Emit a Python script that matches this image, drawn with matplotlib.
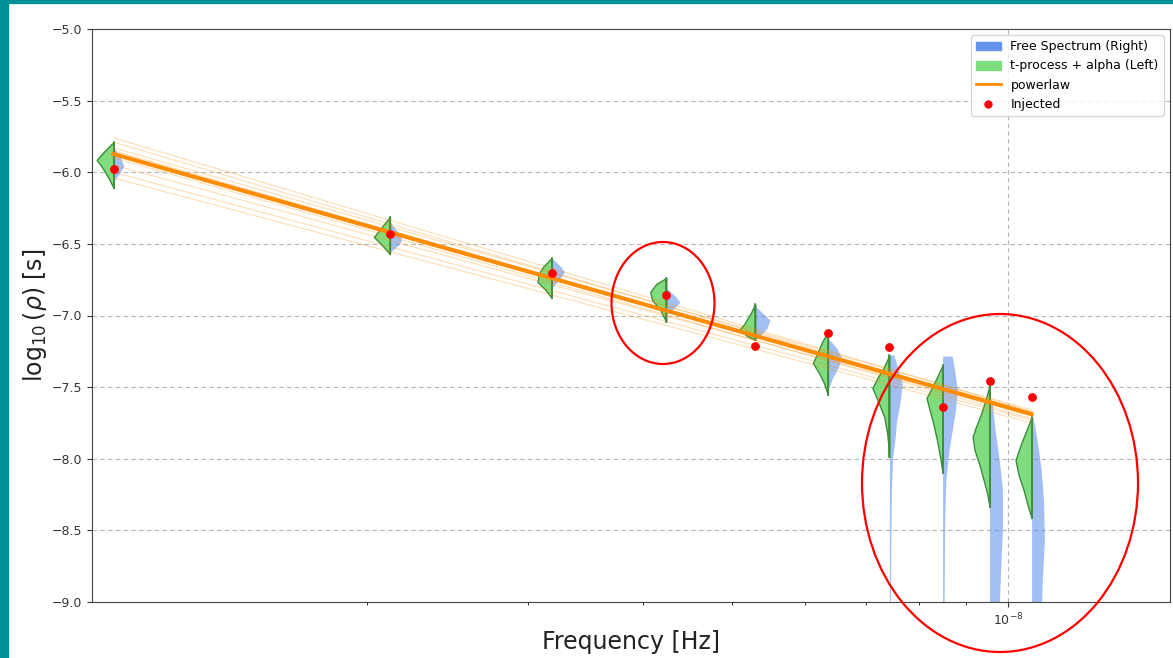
import matplotlib
matplotlib.use("Agg")
import matplotlib.pyplot as plt
import numpy as np
from matplotlib.patches import Patch, Ellipse, Rectangle
from matplotlib.lines import Line2D
from matplotlib.ticker import NullFormatter

# frequency bins (k / Tspan, Tspan ~ 30 yr)
freqs = [1.060e-9, 2.120e-9, 3.180e-9, 4.240e-9, 5.300e-9,
         6.360e-9, 7.420e-9, 8.480e-9, 9.540e-9, 1.060e-8]

# injected log10(rho) values
injected = [-5.98, -6.43, -6.70, -6.855, -7.21, -7.12, -7.22, -7.64, -7.46, -7.57]

# powerlaw: median and a few posterior draws, log10(rho) at first and last bin
pl_median = [-5.873, -7.688]
pl_draws_lo = [-5.76, -5.79, -5.83, -5.85, -5.90, -5.95, -6.00, -6.04]
pl_draws_hi = [-7.67, -7.69, -7.66, -7.70, -7.72, -7.70, -7.73, -7.75]

# violin profiles: (log10 rho levels, half width in decades)
green_y = [
    [-5.789, -5.859, -5.914, -5.970, -6.040, -6.110],
    [-6.312, -6.389, -6.452, -6.508, -6.571],
    [-6.599, -6.655, -6.710, -6.766, -6.822, -6.878],
    [-6.738, -6.780, -6.836, -6.892, -6.962, -7.045],
    [-6.920, -6.990, -7.059, -7.101, -7.143, -7.171],
    [-7.115, -7.185, -7.255, -7.332, -7.401, -7.471, -7.555],
    [-7.276, -7.367, -7.436, -7.506, -7.590, -7.709, -7.834, -7.988],
    [-7.346, -7.436, -7.520, -7.576, -7.660, -7.764, -7.890, -8.009, -8.099],
    [-7.485, -7.590, -7.695, -7.785, -7.848, -7.939, -8.044, -8.148, -8.253, -8.337],
    [-7.709, -7.799, -7.904, -8.009, -8.113, -8.218, -8.323, -8.414],
]
green_w = [
    [0, .011, .0185, .012, .0055, 0],
    [0, .0098, .0175, .0087, 0],
    [0, .0087, .0142, .0153, .0065, 0],
    [0, .011, .0175, .0153, .0065, 0],
    [0, .0055, .012, .0175, .0087, 0],
    [0, .0065, .011, .0164, .0098, .0044, 0],
    [0, .0065, .013, .0185, .013, .0055, .0022, 0],
    [0, .0065, .013, .0175, .0142, .0098, .0055, .0022, 0],
    [0, .0044, .0098, .0153, .0185, .0164, .011, .0065, .0022, 0],
    [0, .0055, .012, .0175, .0142, .0087, .0044, 0],
]
blue_y = [
    [-5.824, -5.901, -5.956, -6.012, -6.061],
    [-6.347, -6.417, -6.473, -6.522, -6.557],
    [-6.599, -6.655, -6.696, -6.752, -6.808],
    [-6.808, -6.864, -6.906, -6.948, -6.990],
    [-6.934, -6.983, -7.031, -7.087, -7.136, -7.171],
    [-7.157, -7.227, -7.297, -7.366, -7.436, -7.520],
    [-7.276, -7.380, -7.471, -7.590, -7.729, -7.869, -7.988, -8.218, -8.567, -9.05],
    [-7.283, -7.380, -7.520, -7.660, -7.799, -7.939, -8.148, -8.428, -9.05],
    [-7.590, -7.799, -8.009, -8.218, -8.497, -8.777, -9.05],
    [-7.709, -7.869, -8.079, -8.288, -8.567, -8.812, -9.05],
]
blue_w = [
    [0, .0075, .011, .006, 0],
    [0, .0085, .013, .007, 0],
    [0, .0095, .014, .008, 0],
    [0, .0095, .015, .009, 0],
    [0, .008, .016, .013, .006, 0],
    [0, .0095, .015, .011, .005, 0],
    [.005, .0095, .014, .012, .008, .006, .0035, .0022, .0016, .0011],
    [.0105, .013, .016, .014, .0105, .007, .0035, .0022, .0016],
    [.0025, .006, .0105, .014, .014, .012, .0105],
    [.0015, .006, .0105, .013, .014, .012, .0105],
]

fig = plt.figure(figsize=(11.73, 6.58), dpi=100)
ax = fig.add_axes([92 / 1173, 1 - 602 / 658, (1170 - 92) / 1173, (602 - 29) / 658])

for f, gy, gw, by, bw in zip(freqs, green_y, green_w, blue_y, blue_w):
    gy = np.array(gy)
    by = np.array(by)
    ax.fill_betweenx(by, f, f * 10 ** np.array(bw), color="cornflowerblue",
                     alpha=0.6, lw=0, zorder=2)
    ax.fill_betweenx(gy, f * 10 ** (-np.array(gw)), f, facecolor="#7fdc7f",
                     edgecolor="#3c8c3c", lw=1.0, zorder=3)
    ax.plot([f, f], [gy.min(), gy.max()], color="#3c8c3c", lw=1.2, zorder=3)

pl_x = [freqs[0], freqs[-1]]
for lo, hi in zip(pl_draws_lo, pl_draws_hi):
    ax.plot(pl_x, [lo, hi], color="darkorange", lw=0.8, alpha=0.3, zorder=4)
ax.plot(pl_x, pl_median, color="darkorange", lw=3, zorder=5)

ax.scatter(freqs, injected, color="red", s=28, zorder=6)

ax.set_xscale("log")
ax.set_xlim(1.004e-9, 1.5e-8)
ax.set_ylim(-9, -5)
ax.xaxis.set_minor_formatter(NullFormatter())
ax.tick_params(labelsize=9, colors="#333333")
for sp in ax.spines.values():
    sp.set_color("#444444")
ax.grid(True, which="major", ls=(0, (4, 3)), color="#b5b5b5", lw=0.8)
ax.set_xlabel("Frequency [Hz]", fontsize=17, color="#222222", labelpad=1)
ax.set_ylabel(r"$\log_{10}(\rho)$ [s]", fontsize=17, color="#222222", labelpad=2)

handles = [
    Patch(color="cornflowerblue", label="Free Spectrum (Right)"),
    Patch(color="#7fdc7f", label="t-process + alpha (Left)"),
    Line2D([], [], color="darkorange", lw=2, label="powerlaw"),
    Line2D([], [], color="red", marker="o", ls="", markersize=5, label="Injected"),
]
ax.legend(handles=handles, loc="upper right", fontsize=9)

# slide frame and hand-drawn highlight circles
fig.patches.append(Rectangle((0, 0), 8 / 1173, 1, transform=fig.transFigure,
                             color="#00909a", zorder=0))
fig.patches.append(Rectangle((0, 1 - 3 / 658), 1, 3 / 658, transform=fig.transFigure,
                             color="#00909a", zorder=0))
for cx, cy, w, h in [(663, 303, 103, 122), (1000, 483, 276, 338)]:
    fig.patches.append(Ellipse((cx / 1173, 1 - cy / 658), w / 1173, h / 658,
                               transform=fig.transFigure, fill=False,
                               edgecolor="red", lw=1.6, zorder=10))

fig.savefig("out.png", dpi=100)
